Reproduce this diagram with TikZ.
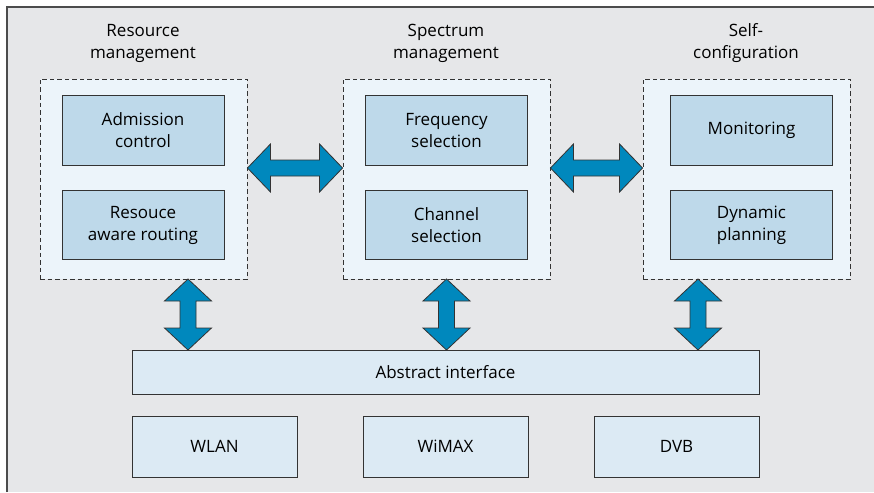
\documentclass[tikz,border=0pt]{standalone}
\usepackage{fontspec}
\setmainfont{Open Sans}
\usetikzlibrary{calc}
\definecolor{bggray}{HTML}{E6E7E9}
\definecolor{grpfill}{HTML}{ECF4FA}
\definecolor{boxfill}{HTML}{BED9EA}
\definecolor{layfill}{HTML}{DCEAF4}
\definecolor{arrfill}{HTML}{0088BD}
\definecolor{edge}{HTML}{333333}
\tikzset{
  txt/.style={font=\fontsize{17}{22}\selectfont},
  grp/.style={draw=edge, fill=grpfill, line width=0.9pt, dash pattern=on 4.5pt off 3pt, minimum width=207pt, minimum height=200pt, inner sep=0pt},
  inbox/.style={txt, draw=edge, fill=boxfill, line width=1pt, minimum width=162pt, minimum height=69pt, inner sep=0pt, align=center},
  laybox/.style={txt, draw=edge, fill=layfill, line width=1pt, minimum width=165pt, minimum height=61pt, inner sep=0pt, align=center},
  title/.style={txt, align=center, inner sep=0pt},
  arr/.style={draw=edge, fill=arrfill, line width=0.8pt, line join=miter},
}
\newcommand{\dharrow}[2]{%
  \path[arr] let \p1=#1, \p2=#2 in
   (\x1,\y1) -- (\x1+23pt,\y1+24pt) -- (\x1+23pt,\y1+8pt) -- (\x2-23pt,\y1+8pt) -- (\x2-23pt,\y1+24pt) -- (\x2,\y1)
   -- (\x2-23pt,\y1-24pt) -- (\x2-23pt,\y1-8pt) -- (\x1+23pt,\y1-8pt) -- (\x1+23pt,\y1-24pt) -- cycle;}
\newcommand{\dvarrow}[2]{%
  \path[arr] let \p1=#1, \p2=#2 in
   (\x1,\y1) -- (\x1+23.5pt,\y1-22pt) -- (\x1+8pt,\y1-22pt) -- (\x1+8pt,\y2+22pt) -- (\x1+23.5pt,\y2+22pt) -- (\x1,\y2)
   -- (\x1-23.5pt,\y2+22pt) -- (\x1-8pt,\y2+22pt) -- (\x1-8pt,\y1-22pt) -- (\x1-23.5pt,\y1-22pt) -- cycle;}
\begin{document}
\begin{tikzpicture}[x=1pt,y=-1pt]
\useasboundingbox (0,0) rectangle (874,492);
\fill[bggray] (7,7) rectangle (874,492);
\draw[gray!60!black, line width=1.2pt] (7,492) -- (7,7) -- (874,7);

% titles
\node[title] (t1) at (143,43) {Resource\\management};
\node[title] (t2) at (446,43) {Spectrum\\management};
\node[title] (t3) at (746,43) {Self-\\configuration};

% groups
\node[grp] (g1) at (143.5,179) {};
\node[grp] (g2) at (446.5,179) {};
\node[grp] (g3) at (746.5,179) {};

% inner boxes
\node[inbox] (a1) at (143,130.5) {Admission\\control};
\node[inbox] (a2) at (143,225) {Resouce\\aware routing};
\node[inbox] (b1) at (446.5,130.5) {Frequency\\selection};
\node[inbox] (b2) at (446.5,225) {Channel\\selection};
\node[inbox] (c1) at (751.5,130.5) {Monitoring};
\node[inbox] (c2) at (751.5,225) {Dynamic\\planning};

% layers
\node[txt, draw=edge, fill=layfill, line width=1pt, minimum width=627pt, minimum height=44pt, inner sep=0pt] (ai) at (445.5,372) {Abstract interface};
\node[laybox] (w1) at (214.5,446.5) {WLAN};
\node[laybox] (w2) at (445.5,446.5) {WiMAX};
\node[laybox] (w3) at (676.5,446.5) {DVB};

% horizontal arrows
\coordinate (h1a) at ($(g1.east)+(0,-11)$);
\coordinate (h1b) at ($(g2.west)+(0,-11)$);
\coordinate (h2a) at ($(g2.east)+(0,-11)$);
\coordinate (h2b) at ($(g3.west)+(0,-11)$);
\dharrow{(h1a)}{(h1b)}
\dharrow{(h2a)}{(h2b)}

% vertical arrows
\coordinate (v1a) at (188,279);
\coordinate (v1b) at (188,350);
\coordinate (v2a) at (446.5,279);
\coordinate (v2b) at (446.5,350);
\coordinate (v3a) at (698,279);
\coordinate (v3b) at (698,350);
\dvarrow{(v1a)}{(v1b)}
\dvarrow{(v2a)}{(v2b)}
\dvarrow{(v3a)}{(v3b)}
\end{tikzpicture}
\end{document}
